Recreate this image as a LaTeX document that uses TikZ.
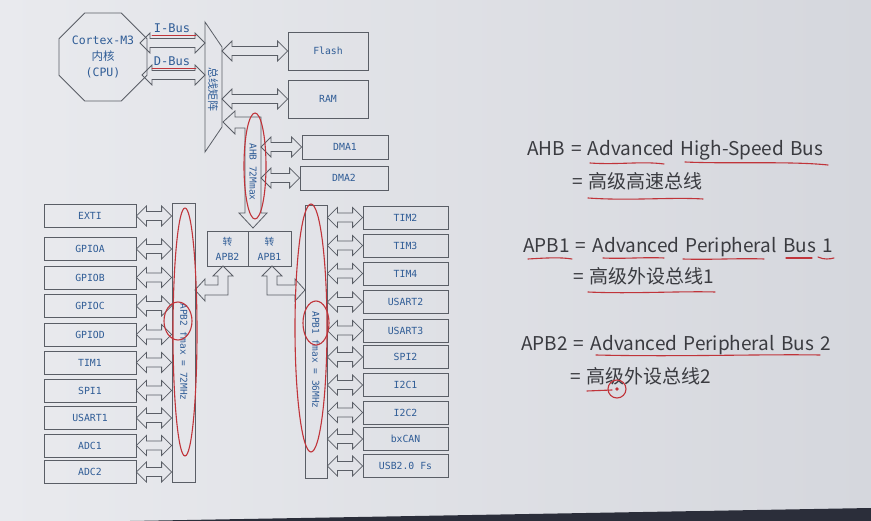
\documentclass[tikz,border=0pt]{standalone}
\usepackage{fontspec}
\setmainfont{Noto Sans CJK SC}
\setmonofont{DejaVu Sans Mono}
\newfontfamily\cjk{Noto Sans CJK SC}
\newfontfamily\slidefont{Noto Sans CJK SC}[WordSpace=1.45]
\usepackage{tikz}
\usetikzlibrary{shapes.geometric, calc, positioning}

\definecolor{screenL}{HTML}{E9EAEE}
\definecolor{screenR}{HTML}{D5D7DD}
\definecolor{edge}{HTML}{5A5E66}
\definecolor{ink}{HTML}{2F5C96}
\definecolor{pen}{HTML}{C0343A}
\definecolor{slide}{HTML}{3A3B40}
\definecolor{bezel}{HTML}{2B2E3A}

% hollow double-headed bus arrow, left end #1, right end at x of #2
\newcommand{\busarrow}[2]{%
  \draw[bus] let \p1=(#1), \p2=(#2) in
    (\x1,\y1) -- ++(10pt,10pt) -- ++(0pt,-5.5pt) -- (\x2-10pt,\y1+4.5pt) -- ++(0pt,5.5pt)
    -- (\x2,\y1) -- ++(-10pt,-10pt) -- ++(0pt,5.5pt) -- (\x1+10pt,\y1-4.5pt) -- ++(0pt,-5.5pt) -- cycle;}

\begin{document}
\begin{tikzpicture}[
        x=1pt, y=-1pt,
        pbox/.style={draw=edge, line width=0.8pt, minimum height=23, inner sep=0pt,
                     text=ink, font=\ttfamily\fontsize{9.8}{15}\selectfont},
        lbox/.style={pbox, minimum width=92},
        rbox/.style={pbox, minimum width=85},
        bar/.style={draw=edge, line width=0.8pt, inner sep=0pt},
        bus/.style={draw=edge, line width=0.8pt, line join=miter},
        vtext/.style={rotate=-90, inner sep=0pt, text=ink, font=\ttfamily\fontsize{9.5}{10}\selectfont},
        redink/.style={draw=pen, line width=1.1pt, line cap=round},
        slidetxt/.style={anchor=base west, inner sep=0pt, text=slide, font=\slidefont\fontsize{19}{22}\selectfont}
    ]
    % ---- screen photo background ----
    \shade[left color=screenL, right color=screenR] (0,0) rectangle (871,521);
    \fill[bezel] (130,521) -- (871,508) -- (871,521) -- cycle;
    \useasboundingbox (0,0) rectangle (871,521);

    % ---- core, bus matrix, memories ----
    \node[draw=edge, line width=0.8pt, regular polygon, regular polygon sides=8, minimum size=76,
          inner sep=0pt, align=center, text=ink, font=\ttfamily\fontsize{11.5}{16}\selectfont]
          (cpu) at (103,57) {Cortex-M3\\{\cjk 内核}\\(CPU)};
    \draw[bus] (205,22) -- (222,47) -- (222,127) -- (205,152) -- cycle;
    \coordinate (mtxL) at (205,87);
    \coordinate (mtxR) at (222,87);
    \node[rotate=-90, inner sep=0pt, text=ink, font=\cjk\fontsize{11}{12}\selectfont] (mtx) at (213,90) {总线矩阵};

    \coordinate (ibus) at (140,43);
    \coordinate (dbus) at (142,75);
    \busarrow{ibus}{mtxL}
    \busarrow{dbus}{mtxL}
    \node[text=ink, font=\ttfamily\fontsize{12}{12}\selectfont] (ibuslbl) at (172,28) {I-Bus};
    \node[text=ink, font=\ttfamily\fontsize{12}{12}\selectfont] (dbuslbl) at (172,61) {D-Bus};

    \node[pbox, minimum width=80, minimum height=38] (flash) at (328,51) {Flash};
    \node[pbox, minimum width=80, minimum height=38] (ram) at (328,99) {RAM};
    \busarrow{mtxR |- flash.west}{flash.west}
    \busarrow{mtxR |- ram.west}{ram.west}

    % ---- AHB and DMA ----
    \draw[bus] (223,122) -- (235,111) -- (235,117) -- (261,117) -- (261,213) -- (267,213) -- (253,228)
        -- (239,213) -- (245,213) -- (245,128) -- (235,128) -- (235,134) -- cycle;
    \node[vtext] (ahbtxt) at (253,172) {AHB 72Mmax};
    \coordinate (ahbR) at (261,170);
    \node[rbox, minimum width=86, minimum height=24] (dma1) at (345,147) {DMA1};
    \node[rbox, minimum width=88, minimum height=24] (dma2) at (344,178) {DMA2};
    \busarrow{ahbR |- dma1.west}{dma1.west}
    \busarrow{ahbR |- dma2.west}{dma2.west}

    % ---- bridges ----
    \node[pbox, minimum width=41, minimum height=35, align=center] (totwo) at (227.5,248.5) {{\cjk 转}\\APB2};
    \node[pbox, minimum width=43, minimum height=35, align=center] (toone) at (269.5,248.5) {{\cjk 转}\\APB1};
    \draw[bus] (223,266) -- (233,276) -- (228,276) -- (228,295) -- (205,295) -- (205,301) -- (195,290)
        -- (205,279) -- (205,285) -- (218,285) -- (218,276) -- (213,276) -- cycle;
    \draw[bus] (272,266) -- (282,276) -- (277,276) -- (277,285) -- (295,285) -- (295,279) -- (305,290)
        -- (295,301) -- (295,295) -- (267,295) -- (267,276) -- (262,276) -- cycle;

    % ---- APB2 side ----
    \node[bar, minimum width=23, minimum height=279] (apbtwo) at (183.5,342.5) {};
    \node[vtext] (apbtwotxt) at (184,352) {APB2 fmax = 72MHz};
    \node[lbox] (exti)   at (90,216)   {EXTI};
    \node[lbox] (gpioa)  at (90,249)   {GPIOA};
    \node[lbox] (gpiob)  at (90,277.5) {GPIOB};
    \node[lbox] (gpioc)  at (90,306)   {GPIOC};
    \node[lbox] (gpiod)  at (90,334.5) {GPIOD};
    \node[lbox] (tim1)   at (90,362.5) {TIM1};
    \node[lbox] (spi1)   at (90,390.5) {SPI1};
    \node[lbox] (usart1) at (90,418)   {USART1};
    \node[lbox] (adc1)   at (90,445.5) {ADC1};
    \node[lbox] (adc2)   at (90,472)   {ADC2};
    \busarrow{exti.east}{exti.east -| apbtwo.west}
    \busarrow{gpioa.east}{gpioa.east -| apbtwo.west}
    \busarrow{gpiob.east}{gpiob.east -| apbtwo.west}
    \busarrow{gpioc.east}{gpioc.east -| apbtwo.west}
    \busarrow{gpiod.east}{gpiod.east -| apbtwo.west}
    \busarrow{tim1.east}{tim1.east -| apbtwo.west}
    \busarrow{spi1.east}{spi1.east -| apbtwo.west}
    \busarrow{usart1.east}{usart1.east -| apbtwo.west}
    \busarrow{adc1.east}{adc1.east -| apbtwo.west}
    \busarrow{adc2.east}{adc2.east -| apbtwo.west}

    % ---- APB1 side ----
    \node[bar, minimum width=22, minimum height=273] (apbone) at (316,341.5) {};
    \node[vtext] (apbonetxt) at (316,360) {APB1 fmax = 36MHz};
    \node[rbox] (tim2)   at (405.5,217.5) {TIM2};
    \node[rbox] (tim3)   at (405.5,245.5) {TIM3};
    \node[rbox] (tim4)   at (405.5,273.5) {TIM4};
    \node[rbox] (usart2) at (405.5,302)   {USART2};
    \node[rbox] (usart3) at (405.5,330.5) {USART3};
    \node[rbox] (spi2)   at (405.5,357)   {SPI2};
    \node[rbox] (i2c1)   at (405.5,385)   {I2C1};
    \node[rbox] (i2c2)   at (405.5,412.5) {I2C2};
    \node[rbox] (bxcan)  at (405.5,439)   {bxCAN};
    \node[rbox] (usb)    at (405.5,466)   {USB2.0 Fs};
    \busarrow{apbone.east |- tim2.west}{tim2.west}
    \busarrow{apbone.east |- tim3.west}{tim3.west}
    \busarrow{apbone.east |- tim4.west}{tim4.west}
    \busarrow{apbone.east |- usart2.west}{usart2.west}
    \busarrow{apbone.east |- usart3.west}{usart3.west}
    \busarrow{apbone.east |- spi2.west}{spi2.west}
    \busarrow{apbone.east |- i2c1.west}{i2c1.west}
    \busarrow{apbone.east |- i2c2.west}{i2c2.west}
    \busarrow{apbone.east |- bxcan.west}{bxcan.west}
    \busarrow{apbone.east |- usb.west}{usb.west}

    % ---- slide text ----
    \node[slidetxt] (defahb) at (527,156) {AHB = Advanced High-Speed Bus};
    \node[slidetxt] (cnahb) at (572,189) {= 高级高速总线};
    \node[slidetxt] (defapbone) at (523,253) {APB1 = Advanced Peripheral Bus 1};
    \node[slidetxt] (cnapbone) at (573,284) {= 高级外设总线1};
    \node[slidetxt] (defapbtwo) at (521,351) {APB2 = Advanced Peripheral Bus 2};
    \node[slidetxt] (cnapbtwo) at (570,384) {= 高级外设总线2};

    % ---- red pen notes ----
    \draw[redink] (255,166) ellipse [x radius=11, y radius=53];
    \draw[redink] (185,332) ellipse [x radius=12, y radius=124];
    \draw[redink] (178,321) ellipse [x radius=14, y radius=19];
    \draw[redink] (311,328) ellipse [x radius=16, y radius=124];
    \draw[redink] (316,323) ellipse [x radius=13, y radius=22];
    \draw[redink, line width=0.7pt] (152,35.5) -- (196,35.5);
    \draw[redink, line width=0.7pt] (152,68.5) -- (196,68.5);
    \draw[redink] (590,163) .. controls (618,165) and (642,161) .. (664,164);
    \draw[redink] (685,162) .. controls (730,164) and (790,161) .. (828,165);
    \draw[redink] (588,198) .. controls (630,201) and (670,197) .. (703,199);
    \draw[redink] (528,259) .. controls (545,258) and (560,257) .. (572,259);
    \draw[redink] (603,258) .. controls (625,259) and (645,257) .. (664,258);
    \draw[redink] (683,259) .. controls (710,260) and (740,258) .. (764,259);
    \draw[redink] (786,258) -- (812,258);
    \draw[redink] (818,257) .. controls (824,260) and (830,259) .. (834,258);
    \draw[redink] (588,292) .. controls (630,294) and (680,291) .. (715,292);
    \draw[redink] (596,355) .. controls (680,357) and (760,354) .. (820,355);
    \draw[redink] (587,391) -- (612,390);
    \draw[redink] (617,389) circle [radius=9];
    \fill[pen] (617,389) circle [radius=1.8];
\end{tikzpicture}
\end{document}
